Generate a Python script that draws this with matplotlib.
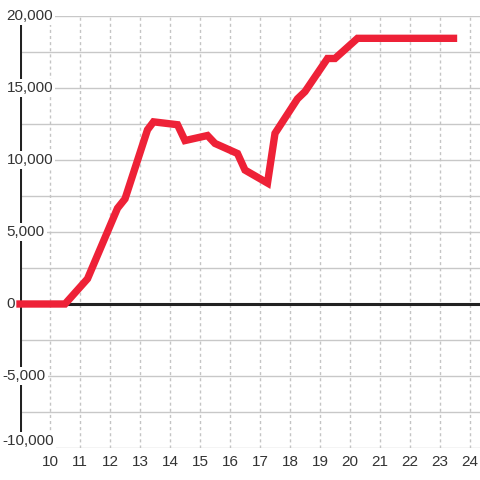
import matplotlib
matplotlib.use("Agg")
import matplotlib.pyplot as plt

plt.rcParams['font.family'] = ['Liberation Sans', 'DejaVu Sans']

# series
hours = [9, 10.5, 11.25, 12.25, 12.5, 13.25, 13.45, 14.25, 14.5, 15.25, 15.5,
         16.25, 16.5, 17.25, 17.5, 18.25, 18.5, 19.25, 19.5, 20.25, 23.45]
values = [0, 0, 1750, 6650, 7300, 12100, 12650, 12450, 11350, 11700, 11150,
          10450, 9300, 8400, 11850, 14250, 14750, 17050, 17050, 18450, 18450]

x_ticks = list(range(10, 25))
y_ticks = [-10000, -5000, 0, 5000, 10000, 15000, 20000]
y_grid = [-10000 + 2500 * i for i in range(13)]

fig = plt.figure(figsize=(4.8, 4.8), dpi=100)
ax = fig.add_axes([20 / 480, 32 / 480, 460 / 480, 432 / 480])
ax.set_xlim(9, 9 + 460 / 30)
ax.set_ylim(-10000, 20000)

for s in ax.spines.values():
    s.set_visible(False)

for g in y_grid:
    ax.axhline(g, color='#c8c8c8', lw=1, zorder=1)
for t in x_ticks:
    ax.axvline(t, color='#c4c4c4', lw=1, ls=(0, (2.2, 2.2)), zorder=1)

ax.axhline(0, color='#222222', lw=2.2, zorder=2)
ax.axvline(9, color='#222222', lw=2.2, zorder=2)

ax.plot(hours, values, color='#ee2137', lw=5.3, zorder=6,
        solid_capstyle='projecting', solid_joinstyle='miter', clip_on=False)

ax.set_xticks(x_ticks)
ax.set_xticklabels([str(t) for t in x_ticks])
ax.tick_params(axis='x', length=0, pad=5, labelsize=11, colors='#333333')
ax.set_yticks([])

# y labels sit inside the plot, digits left-aligned, minus sign hanging
tr = ax.get_yaxis_transform()
for v in y_ticks:
    lab = f"{v:,}"
    px = 2.5 if v < 0 else 6.5
    ypos = v + 480 if v == -10000 else v
    ax.text((px - 20) / 460, ypos, lab, ha='left', va='center', fontsize=11,
            color='#333333', zorder=5, transform=tr,
            bbox=dict(facecolor='white', edgecolor='none', pad=1.5))

fig.savefig('out.png', dpi=100)
